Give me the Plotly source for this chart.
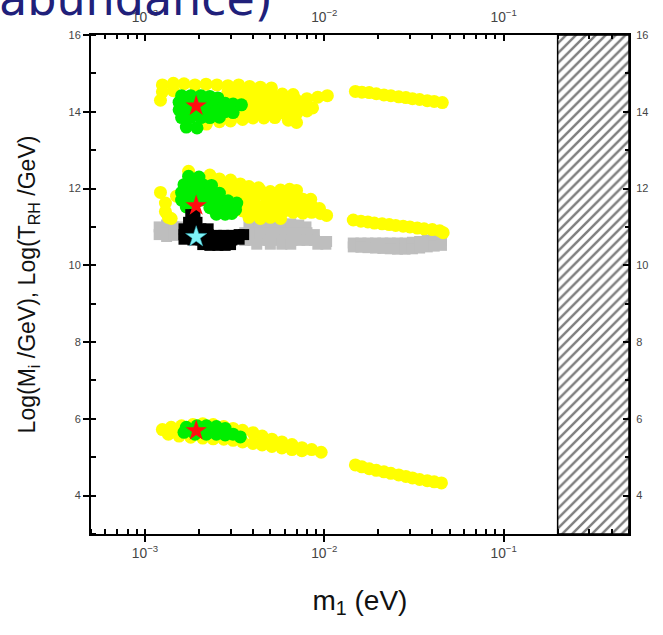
import math
import plotly.graph_objects as go

# ---------------- data ----------------
# x : m1 in eV ; y : log10(M_i/GeV) or log10(T_RH/GeV)

# upper cloud (M ~ 10^14 GeV)
up_yellow_m1 = [1.25e-3, 1.44e-3, 1.65e-3, 1.9e-3, 2.19e-3, 2.52e-3, 2.9e-3, 3.33e-3, 3.83e-3, 4.4e-3, 5.07e-3,
                1.25e-3, 1.44e-3, 2.9e-3, 3.33e-3, 3.83e-3, 4.4e-3, 5.07e-3, 5.83e-3, 6.7e-3,
                1.22e-3, 3.0e-3, 3.5e-3, 4.0e-3, 4.6e-3, 5.3e-3, 6.1e-3, 7.0e-3, 8.0e-3, 9.2e-3, 1.04e-2,
                3.3e-3, 3.8e-3, 4.4e-3, 5.0e-3, 5.8e-3, 6.6e-3, 7.6e-3, 8.6e-3,
                2.6e-3, 3.0e-3, 3.5e-3, 4.0e-3, 4.6e-3, 5.3e-3, 6.1e-3, 7.0e-3, 8.0e-3,
                2.2e-3, 2.6e-3, 3.0e-3, 3.5e-3, 4.0e-3, 4.6e-3, 5.3e-3, 6.3e-3, 7.0e-3]
up_yellow_log = [14.70, 14.74, 14.73, 14.70, 14.72, 14.70, 14.68, 14.70, 14.66, 14.64, 14.62,
                 14.52, 14.55, 14.52, 14.53, 14.50, 14.50, 14.48, 14.46, 14.45,
                 14.30, 14.32, 14.34, 14.30, 14.32, 14.30, 14.28, 14.30, 14.34, 14.38, 14.42,
                 14.15, 14.12, 14.15, 14.12, 14.15, 14.12, 14.15, 14.10,
                 13.95, 13.98, 13.95, 13.97, 13.95, 13.96, 13.93, 13.95, 14.02,
                 13.68, 13.74, 13.76, 13.80, 13.84, 13.84, 13.85, 13.78, 13.72]
up_green_m1 = [1.6e-3, 1.8e-3, 2.05e-3, 2.3e-3, 2.55e-3,
               1.55e-3, 1.75e-3, 2.0e-3, 2.25e-3, 2.5e-3, 2.8e-3, 3.1e-3, 3.45e-3,
               1.55e-3, 1.75e-3, 2.0e-3, 2.25e-3, 2.5e-3, 2.8e-3, 3.1e-3,
               1.6e-3, 1.8e-3, 2.05e-3, 2.3e-3, 2.6e-3,
               1.7e-3, 1.95e-3]
up_green_log = [14.42, 14.42, 14.42, 14.40, 14.36,
                14.25, 14.25, 14.25, 14.24, 14.24, 14.22, 14.20, 14.18,
                14.05, 14.05, 14.05, 14.05, 14.03, 14.00, 13.98,
                13.85, 13.85, 13.85, 13.85, 13.86,
                13.60, 13.58]
up_band_m1 = [1.49e-2, 1.62e-2, 1.78e-2, 1.95e-2, 2.15e-2, 2.35e-2, 2.6e-2, 2.85e-2, 3.1e-2,
              3.4e-2, 3.75e-2, 4.1e-2, 4.55e-2]
up_band_log = [14.53, 14.51, 14.50, 14.47, 14.44, 14.42, 14.39, 14.37, 14.34, 14.32, 14.29, 14.27, 14.24]

# middle cloud (M ~ 10^11-10^12 GeV)
mid_yellow_m1 = [1.75e-3, 2.3e-3,
                 2.3e-3, 2.6e-3, 3.0e-3,
                 2.6e-3, 3.0e-3, 3.4e-3, 3.8e-3, 4.3e-3,
                 1.22e-3, 2.8e-3, 3.1e-3, 3.4e-3, 3.9e-3, 4.4e-3, 5.0e-3, 5.7e-3, 6.4e-3, 7.0e-3,
                 1.3e-3, 1.5e-3, 3.3e-3, 3.6e-3, 4.1e-3, 4.7e-3, 5.3e-3, 6.0e-3, 6.8e-3, 7.6e-3, 8.4e-3,
                 1.3e-3, 3.6e-3, 4.1e-3, 4.7e-3, 5.3e-3, 6.0e-3, 6.8e-3, 7.6e-3, 8.6e-3, 9.4e-3,
                 1.35e-3, 3.5e-3, 4.0e-3, 4.6e-3, 5.2e-3, 5.9e-3, 6.7e-3, 7.6e-3, 8.5e-3, 9.5e-3, 1.03e-2,
                 1.4e-3, 3.8e-3, 4.4e-3, 5.0e-3, 5.7e-3]
mid_yellow_log = [12.45, 12.35,
                  12.28, 12.25, 12.22,
                  12.12, 12.15, 12.12, 12.05, 12.02,
                  11.90, 12.00, 11.95, 11.98, 11.96, 11.95, 11.92, 11.96, 11.98, 11.95,
                  11.62, 11.80, 11.82, 11.80, 11.78, 11.80, 11.76, 11.78, 11.76, 11.72, 11.72,
                  11.40, 11.60, 11.58, 11.60, 11.56, 11.58, 11.55, 11.56, 11.52, 11.48,
                  11.25, 11.42, 11.40, 11.40, 11.38, 11.40, 11.38, 11.36, 11.38, 11.35, 11.30,
                  11.22, 11.25, 11.22, 11.25, 11.22]
mid_green_m1 = [1.75e-3, 2.0e-3,
                1.65e-3, 1.85e-3, 2.1e-3, 2.35e-3,
                1.6e-3, 1.8e-3, 2.05e-3, 2.3e-3, 2.6e-3,
                1.6e-3, 1.8e-3, 2.05e-3, 2.3e-3, 2.6e-3, 2.9e-3, 3.25e-3,
                1.7e-3, 2.3e-3, 2.6e-3, 2.9e-3, 3.2e-3,
                2.5e-3, 2.8e-3, 3.05e-3]
mid_green_log = [12.32, 12.30,
                 12.10, 12.10, 12.10, 12.08,
                 11.90, 11.90, 11.90, 11.90, 11.88,
                 11.70, 11.70, 11.70, 11.70, 11.70, 11.68, 11.62,
                 11.52, 11.50, 11.50, 11.48, 11.45,
                 11.33, 11.33, 11.35]
mid_band_m1 = [1.45e-2, 1.6e-2, 1.75e-2, 1.9e-2, 2.1e-2, 2.3e-2, 2.5e-2, 2.75e-2, 3.0e-2, 3.3e-2,
               3.6e-2, 4.0e-2, 4.4e-2, 4.6e-2]
mid_band_log = [11.18, 11.15, 11.13, 11.10, 11.08, 11.06, 11.04, 11.02, 11.00, 10.97, 10.95, 10.93, 10.90, 10.85]

# T_RH points (gray: all, black: preferred)
trh_gray_m1 = [1.2e-3, 1.2e-3, 1.32e-3, 1.32e-3, 1.32e-3, 1.45e-3, 1.45e-3, 1.6e-3,
               3.8e-3, 4.3e-3, 4.8e-3, 5.3e-3, 5.9e-3, 6.5e-3, 7.2e-3, 7.9e-3,
               3.6e-3, 4.0e-3, 4.4e-3, 4.9e-3, 5.4e-3, 6.0e-3, 6.6e-3, 7.3e-3, 8.0e-3, 8.8e-3,
               3.6e-3, 4.0e-3, 4.4e-3, 4.9e-3, 5.4e-3, 6.0e-3, 6.6e-3, 7.3e-3, 8.0e-3, 8.8e-3, 9.6e-3, 1.03e-2,
               4.2e-3, 5.0e-3, 5.8e-3, 6.5e-3, 9.2e-3, 1.02e-2,
               1.45e-2, 1.6e-2, 1.75e-2, 1.93e-2, 2.12e-2, 2.33e-2, 2.56e-2, 2.82e-2, 3.1e-2, 3.4e-2,
               3.75e-2, 4.1e-2, 4.5e-2,
               1.45e-2, 1.6e-2, 1.75e-2, 1.93e-2, 2.12e-2, 2.33e-2, 2.56e-2, 2.82e-2, 3.1e-2, 3.4e-2,
               3.75e-2, 4.1e-2, 4.5e-2]
trh_gray_log = [11.00, 10.80, 11.05, 10.85, 10.75, 11.00, 10.78, 11.00,
                11.08, 11.08, 11.05, 11.08, 11.05, 11.08, 11.05, 11.00,
                10.85, 10.85, 10.85, 10.85, 10.85, 10.85, 10.85, 10.85, 10.85, 10.80,
                10.65, 10.65, 10.65, 10.65, 10.65, 10.65, 10.65, 10.65, 10.65, 10.65, 10.62, 10.62,
                10.55, 10.55, 10.55, 10.55, 10.55, 10.55,
                10.58, 10.58, 10.58, 10.58, 10.58, 10.58, 10.58, 10.58, 10.60, 10.62,
                10.66, 10.68, 10.65,
                10.48, 10.47, 10.46, 10.45, 10.44, 10.43, 10.42, 10.42, 10.43, 10.45,
                10.48, 10.50, 10.52]
trh_black_m1 = [1.8e-3, 1.9e-3,
                1.75e-3, 1.95e-3,
                1.65e-3, 1.85e-3, 2.05e-3, 2.25e-3,
                1.65e-3, 1.85e-3, 2.05e-3, 2.25e-3, 2.5e-3, 2.75e-3, 3.05e-3, 3.35e-3, 3.55e-3,
                1.65e-3, 1.85e-3, 2.05e-3, 2.25e-3, 2.5e-3, 2.75e-3, 3.05e-3, 3.35e-3,
                2.1e-3, 2.3e-3, 2.55e-3, 2.8e-3, 3.0e-3]
trh_black_log = [11.32, 11.32,
                 11.12, 11.12,
                 10.95, 10.95, 10.95, 10.95,
                 10.80, 10.80, 10.80, 10.80, 10.78, 10.78, 10.78, 10.80, 10.80,
                 10.68, 10.66, 10.66, 10.66, 10.66, 10.66, 10.66, 10.68,
                 10.54, 10.52, 10.52, 10.52, 10.54]

# lower cloud (M ~ 10^5-10^6 GeV)
low_yellow_m1 = [1.25e-3, 1.4e-3, 1.6e-3, 1.85e-3, 2.1e-3, 2.4e-3, 2.75e-3, 3.1e-3, 3.5e-3, 4.0e-3,
                 4.5e-3, 5.1e-3, 5.8e-3, 6.6e-3, 7.5e-3, 8.5e-3, 9.6e-3,
                 1.35e-3, 1.55e-3, 1.8e-3, 2.1e-3, 2.4e-3, 2.75e-3, 3.1e-3, 3.5e-3, 4.0e-3, 4.5e-3,
                 5.1e-3, 5.8e-3, 6.6e-3, 7.5e-3]
low_yellow_log = [5.72, 5.78, 5.82, 5.85, 5.87, 5.85, 5.80, 5.75, 5.70, 5.64,
                  5.55, 5.47, 5.40, 5.33, 5.25, 5.20, 5.13,
                  5.60, 5.55, 5.52, 5.50, 5.48, 5.47, 5.44, 5.40, 5.36, 5.32,
                  5.28, 5.24, 5.20, 5.17]
low_green_m1 = [1.7e-3, 1.95e-3, 2.2e-3, 2.5e-3, 2.8e-3,
                1.65e-3, 1.9e-3, 2.2e-3, 2.5e-3, 2.8e-3, 3.1e-3, 3.4e-3]
low_green_log = [5.78, 5.82, 5.82, 5.80, 5.75,
                 5.65, 5.60, 5.60, 5.60, 5.58, 5.60, 5.53]
low_band_m1 = [1.49e-2, 1.62e-2, 1.78e-2, 1.95e-2, 2.15e-2, 2.35e-2, 2.6e-2, 2.85e-2, 3.1e-2,
               3.4e-2, 3.75e-2, 4.1e-2, 4.5e-2]
low_band_log = [4.80, 4.75, 4.70, 4.66, 4.62, 4.58, 4.54, 4.50, 4.46, 4.42, 4.39, 4.36, 4.33]

# best-fit stars
red_star_m1 = [1.93e-3, 1.93e-3, 1.93e-3]
red_star_log = [14.15, 11.55, 5.69]
cyan_star_m1 = [1.93e-3]
cyan_star_log = [10.74]

# excluded region (hatched) and axis ranges
EXCLUDED_M1 = [0.2, 0.5]
X_RANGE = [5e-4, 0.5]
Y_RANGE = [3, 16]
Y_TICKS = [4, 6, 8, 10, 12, 14, 16]

# ---------------- figure ----------------
fig = go.Figure()

fig.add_trace(go.Scatter(
    x=[EXCLUDED_M1[0], EXCLUDED_M1[1], EXCLUDED_M1[1], EXCLUDED_M1[0], EXCLUDED_M1[0]],
    y=[Y_RANGE[0], Y_RANGE[0], Y_RANGE[1], Y_RANGE[1], Y_RANGE[0]],
    mode="lines", fill="toself", fillcolor="white",
    fillpattern=dict(shape="/", fgcolor="black", bgcolor="white", size=7, solidity=0.35),
    line=dict(color="black", width=1.5), hoverinfo="skip", showlegend=False))

fig.add_trace(go.Scatter(x=trh_gray_m1, y=trh_gray_log, mode="markers",
                         marker=dict(symbol="square", size=11, color="#BEBEBE"), showlegend=False))

yellow_x = up_yellow_m1 + up_band_m1 + mid_yellow_m1 + mid_band_m1 + low_yellow_m1 + low_band_m1
yellow_y = up_yellow_log + up_band_log + mid_yellow_log + mid_band_log + low_yellow_log + low_band_log
fig.add_trace(go.Scatter(x=yellow_x, y=yellow_y, mode="markers",
                         marker=dict(symbol="circle", size=13, color="#FFFF00"), showlegend=False))

green_x = up_green_m1 + mid_green_m1 + low_green_m1
green_y = up_green_log + mid_green_log + low_green_log
fig.add_trace(go.Scatter(x=green_x, y=green_y, mode="markers",
                         marker=dict(symbol="circle", size=13, color="#00EE00"), showlegend=False))

fig.add_trace(go.Scatter(x=trh_black_m1, y=trh_black_log, mode="markers",
                         marker=dict(symbol="square", size=11, color="black"), showlegend=False))

fig.add_trace(go.Scatter(x=red_star_m1, y=red_star_log, mode="markers",
                         marker=dict(symbol="star", size=16, color="#FF1010"), showlegend=False))
fig.add_trace(go.Scatter(x=cyan_star_m1, y=cyan_star_log, mode="markers",
                         marker=dict(symbol="star", size=16, color="#7FF3F7",
                                     line=dict(color="#2aa0b0", width=0.5)), showlegend=False))

# dummy trace for the mirrored top/right axes
fig.add_trace(go.Scatter(x=cyan_star_m1, y=cyan_star_log, xaxis="x2", yaxis="y2", mode="markers",
                         marker=dict(opacity=0), hoverinfo="skip", showlegend=False))

tickfont = dict(family="Liberation Sans, Arial, sans-serif", size=11, color="#444")
xr = [math.log10(X_RANGE[0]), math.log10(X_RANGE[1])]
common_x = dict(type="log", range=xr, dtick=1, exponentformat="power", showgrid=False,
                zeroline=False, showline=True, linecolor="black", linewidth=2, tickfont=tickfont,
                tickcolor="black", tickwidth=1.5, automargin=False)
common_y = dict(range=Y_RANGE, tickvals=Y_TICKS, showgrid=False, zeroline=False, showline=True,
                linecolor="black", linewidth=2, tickfont=tickfont, tickcolor="black", tickwidth=1.5,
                automargin=False)

fig.update_layout(
    width=663, height=635,
    margin=dict(l=91, r=34, t=35, b=101, autoexpand=False),
    paper_bgcolor="white", plot_bgcolor="white",
    showlegend=False,
    xaxis=dict(**common_x, ticks="outside", ticklen=6,
               minor=dict(ticks="inside", ticklen=5, tickcolor="black", tickwidth=1.5, showgrid=False),
               title=dict(text="m<sub>1</sub> (eV)", standoff=30,
                          font=dict(family="Liberation Sans, Arial, sans-serif", size=28, color="#111"))),
    xaxis2=dict(**common_x, overlaying="x", side="top", anchor="y", ticks="inside", ticklen=6,
                ticklabelstandoff=6,
                minor=dict(ticks="inside", ticklen=4, tickcolor="black", tickwidth=1.5, showgrid=False)),
    yaxis=dict(**common_y, ticks="outside", ticklen=6,
               minor=dict(ticks="inside", ticklen=5, dtick=1, tickcolor="black", tickwidth=1.5, showgrid=False),
               title=dict(text="Log(M<sub>i</sub> /GeV), Log(T<sub>RH</sub> /GeV)", standoff=26,
                          font=dict(family="Liberation Sans, Arial, sans-serif", size=23, color="#111"))),
    yaxis2=dict(**common_y, overlaying="y", side="right", anchor="x", ticks="inside", ticklen=6,
                ticklabelstandoff=3,
                minor=dict(ticks="inside", ticklen=4, dtick=1, tickcolor="black", tickwidth=1.5, showgrid=False)),
    annotations=[dict(text="abundance)", xref="paper", yref="paper", x=-0.175, y=1.014,
                      xanchor="left", yanchor="bottom", showarrow=False,
                      font=dict(family="DejaVu Sans, sans-serif", size=46, color="#20207A"))],
)

fig.write_html("out.html")
